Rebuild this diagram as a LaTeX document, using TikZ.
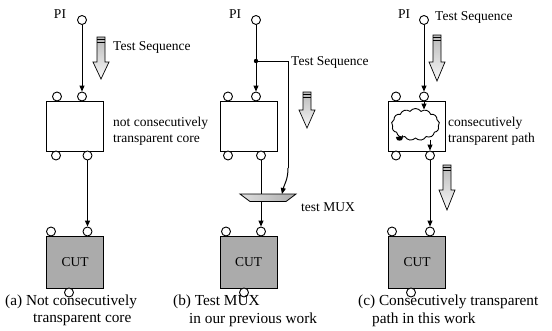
\documentclass[tikz,border=0pt]{standalone}
\usepackage{fontspec}
\setmainfont{Liberation Serif}
\usetikzlibrary{arrows.meta,shapes.symbols}

\tikzset{
  port/.style={circle,draw,fill=white,inner sep=0pt,minimum size=9pt,line width=0.9pt},
  core/.style={draw,fill=white,line width=1pt,minimum width=57pt,minimum height=50pt,inner sep=0pt},
  cutbox/.style={draw,fill=black!33,line width=1pt,minimum width=57pt,minimum height=52pt,inner sep=0pt,
    font=\fontsize{13.5}{14}\selectfont},
  wire/.style={line width=1pt},
  flow/.style={wire,-{Triangle[length=6pt,width=5pt]}},
  lbl/.style={font=\fontsize{13.5}{16}\selectfont,inner sep=0pt,anchor=west,align=left},
  captext/.style={font=\fontsize{15.3}{18}\selectfont,inner sep=0pt,anchor=west},
  bigarrow/.style={draw,line width=0.7pt,top color=gray!55,bottom color=gray!5},
}

% hollow flow arrow: centre x, shaft top, start of head, tip
\newcommand\flowarrow[4]{%
  \draw[bigarrow] (#1-4,#2) -- (#1+4,#2) -- (#1+4,#3) -- (#1+8,#3) -- (#1,#4)
    -- (#1-8,#3) -- (#1-4,#3) -- cycle;
  \draw[line width=0.7pt] (#1-4,#2+2.5) -- (#1+4,#2+2.5);
  \draw[line width=0.7pt] (#1-4,#2+5) -- (#1+4,#2+5);
}

\begin{document}
\begin{tikzpicture}[x=1pt,y=-1pt]
\useasboundingbox (0,0) rectangle (552,330);

% ---------------- (a) ----------------
\node[core] (acore) at (74.5,126) {};
\node[cutbox] (acut) at (75,262) {CUT};
\node[port] (api) at (82,20) {};
\node[port] (act1) at (57,96.5) {};
\node[port] (act2) at (82,96.5) {};
\node[port] (acb1) at (56,155.5) {};
\node[port] (acb2) at (87.5,155.5) {};
\node[port] (aut1) at (51,231.5) {};
\node[port] (aut2) at (87.5,231.5) {};
\node[port] (aub) at (69,292.5) {};
\node[lbl,anchor=center] (apil) at (60,14) {PI};
\draw[flow] (api) -- (act2);
\draw[flow] (acb2) -- (aut2);
\flowarrow{101}{37}{62}{79}
\node[lbl] (ats) at (113,47) {Test Sequence};
\node[lbl] (acl) at (113,131) {not consecutively\\transparent core};
\node[captext] (acap1) at (5,302) {(a) Not consecutively};
\node[captext] (acap2) at (33,320) {transparent core};

% ---------------- (b) ----------------
\node[core] (bcore) at (248.5,126) {};
\node[cutbox] (bcut) at (248.5,262) {CUT};
\node[port] (bpi) at (256,20) {};
\node[port] (bct1) at (228,96.5) {};
\node[port] (bct2) at (256,96.5) {};
\node[port] (bcb1) at (228,155.5) {};
\node[port] (bcb2) at (261,155.5) {};
\node[port] (but1) at (226,231.5) {};
\node[port] (but2) at (261,231.5) {};
\node[port] (bub) at (244,292.5) {};
\node[lbl,anchor=center] (bpil) at (235,14) {PI};
\coordinate (bsplit) at (256,61);
\coordinate (bturn) at (288,61);
\coordinate (bbend) at (288,168);
\coordinate (bmuxsel) at (282,194);
\coordinate (bmuxin) at (261,194);
\coordinate (bmuxout) at (261,201);
\draw[flow] (bpi) -- (bct2);
\fill (bsplit) circle (2.2pt);
\draw[wire] (bsplit) -- (bturn) -- (bbend);
\draw[flow] (bbend) .. controls (288,180) and (284,185) .. (bmuxsel);
\draw[wire] (bcb2) -- (bmuxin);
\draw[line width=0.8pt,left color=gray!25,right color=gray!65]
  (240,194) -- (296,194) -- (286,201.5) -- (250,201.5) -- cycle;
\draw[flow] (bmuxout) -- (but2);
\flowarrow{307}{92}{110}{128}
\node[lbl] (bts) at (291,62) {Test Sequence};
\node[lbl] (bmux) at (301,207) {test MUX};
\node[captext] (bcap1) at (173,302) {(b) Test MUX};
\node[captext] (bcap2) at (189,320) {in our previous work};

% ---------------- (c) ----------------
\node[core] (ccore) at (416.5,126) {};
\node[cutbox] (ccut) at (417,262) {CUT};
\node[port] (cpi) at (424,20) {};
\node[port] (cct1) at (396,96.5) {};
\node[port] (cct2) at (424,96.5) {};
\node[port] (ccb1) at (396,155.5) {};
\node[port] (ccb2) at (430,155.5) {};
\node[port] (cut1) at (392,231.5) {};
\node[port] (cut2) at (430,231.5) {};
\node[port] (cub) at (411,292.5) {};
\node[lbl,anchor=center] (cpil) at (404,14) {PI};
\node[cloud,draw,line width=0.9pt,cloud puffs=13,cloud puff arc=110,
  minimum width=48pt,minimum height=32pt,inner sep=0pt] (cloudpath) at (415.5,124.5) {};
\coordinate (cin) at (424,109.5);
\coordinate (cout) at (430,139.5);
\draw[flow] (cpi) -- (cct2);
\draw[flow] (cct2) -- (cin);
\draw[flow] (cout) -- (ccb2);
\fill (399.5,138.5) ellipse (3.2pt and 2.2pt);
\draw[line width=0.7pt] (396,137) arc (200:380:3.5pt and 2.5pt);
\draw[flow] (ccb2) -- (cut2);
\flowarrow{437}{35}{62}{81}
\flowarrow{447}{165}{190}{210}
\node[lbl] (cts) at (435,17) {Test Sequence};
\node[lbl] (ccl) at (448,131) {consecutively\\transparent path};
\node[captext] (ccap1) at (358,302) {(c) Consecutively transparent};
\node[captext] (ccap2) at (372,320) {path in this work};
\end{tikzpicture}
\end{document}
